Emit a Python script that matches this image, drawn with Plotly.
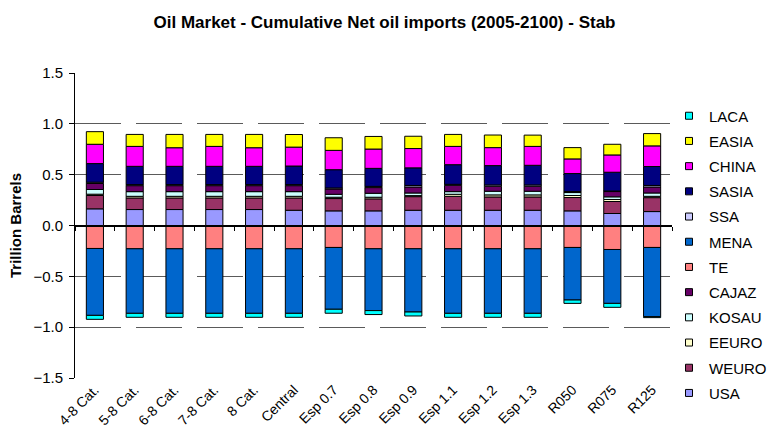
import plotly.graph_objects as go

scenarios = ["4-8 Cat.", "5-8 Cat.", "6-8 Cat.", "7-8 Cat.", "8 Cat.", "Central",
             "Esp 0.7", "Esp 0.8", "Esp 0.9", "Esp 1.1", "Esp 1.2", "Esp 1.3",
             "R050", "R075", "R125"]

# Cumulative net oil imports, trillion barrels (positive = importer, negative = exporter)
USA   = [0.164, 0.157, 0.157, 0.157, 0.157, 0.150, 0.144, 0.144, 0.150, 0.150, 0.150, 0.150, 0.144, 0.118, 0.137]
WEURO = [0.131, 0.114, 0.114, 0.114, 0.114, 0.121, 0.121, 0.118, 0.134, 0.137, 0.131, 0.131, 0.131, 0.118, 0.137]
EEURO = [0.013, 0.016, 0.016, 0.016, 0.016, 0.016, 0.013, 0.016, 0.010, 0.020, 0.020, 0.020, 0.020, 0.020, 0.013]
KOSAU = [0.046, 0.046, 0.046, 0.046, 0.046, 0.046, 0.029, 0.039, 0.026, 0.026, 0.036, 0.036, 0.029, 0.026, 0.033]
CAJAZ = [0.059, 0.059, 0.059, 0.059, 0.059, 0.059, 0.052, 0.056, 0.059, 0.062, 0.049, 0.049, 0.007, 0.052, 0.059]
TE    = [-0.226, -0.229, -0.229, -0.229, -0.229, -0.229, -0.216, -0.229, -0.229, -0.229, -0.229, -0.229, -0.216, -0.236, -0.216]
MENA  = [-0.658, -0.635, -0.635, -0.635, -0.635, -0.635, -0.608, -0.608, -0.622, -0.635, -0.635, -0.635, -0.517, -0.530, -0.680]
SSA   = [0.013, 0.010, 0.010, 0.010, 0.010, 0.010, 0.010, 0.012, 0.015, 0.010, 0.013, 0.013, 0.003, 0.005, 0.015]
SASIA = [0.183, 0.180, 0.180, 0.180, 0.180, 0.183, 0.180, 0.177, 0.173, 0.193, 0.190, 0.193, 0.177, 0.185, 0.186]
CHINA = [0.190, 0.196, 0.183, 0.196, 0.183, 0.186, 0.190, 0.190, 0.190, 0.180, 0.177, 0.186, 0.144, 0.170, 0.203]
EASIA = [0.124, 0.118, 0.131, 0.118, 0.131, 0.124, 0.124, 0.124, 0.121, 0.118, 0.124, 0.111, 0.111, 0.105, 0.121]
LACA  = [-0.039, -0.039, -0.039, -0.039, -0.039, -0.039, -0.039, -0.039, -0.039, -0.039, -0.039, -0.039, -0.033, -0.039, -0.010]

# Stacking order (bottom to top) with region colours
regions = [
    ("USA", USA, "#9999FF"),
    ("WEURO", WEURO, "#993366"),
    ("EEURO", EEURO, "#FFFFCC"),
    ("KOSAU", KOSAU, "#CCFFFF"),
    ("CAJAZ", CAJAZ, "#660066"),
    ("TE", TE, "#FF8080"),
    ("MENA", MENA, "#0066CC"),
    ("SSA", SSA, "#CCCCFF"),
    ("SASIA", SASIA, "#000080"),
    ("CHINA", CHINA, "#FF00FF"),
    ("EASIA", EASIA, "#FFFF00"),
    ("LACA", LACA, "#00FFFF"),
]

FONT = "Liberation Sans, Arial, sans-serif"

fig = go.Figure()
for name, vals, color in regions:
    fig.add_trace(go.Bar(
        x=scenarios, y=vals, name=name, showlegend=False,
        marker=dict(color=color, line=dict(color="black", width=1)),
        hoverinfo="x+y+name",
    ))

# Legend entries (top of stack listed first) with small square swatches
for name, vals, color in reversed(regions):
    fig.add_trace(go.Scatter(
        x=[scenarios[0]], y=[None], name=name, mode="markers",
        legendgroup=name, xaxis="x2",
        marker=dict(symbol="square", size=7, color=color, line=dict(color="black", width=1)),
    ))

fig.update_layout(
    width=769, height=446,
    margin=dict(l=75, r=97, t=73, b=68, autoexpand=False),
    paper_bgcolor="white", plot_bgcolor="white",
    font=dict(family=FONT, size=13, color="black"),
    barmode="relative", bargap=0.57,
    title=dict(text="<b>Oil Market - Cumulative Net oil imports (2005-2100) - Stab</b>",
               x=0.5, xref="container", xanchor="center",
               y=0.951, yref="container", yanchor="middle",
               font=dict(family=FONT, size=17, color="black")),
    xaxis=dict(type="category", range=[-0.5, 14.5], showline=False, ticks="",
               showgrid=False, zeroline=False, tickangle=-45,
               tickfont=dict(family=FONT, size=14, color="black")),
    xaxis2=dict(type="category", categoryorder="array", categoryarray=scenarios,
                overlaying="x", anchor="free", position=0.5, side="bottom",
                range=[-0.5, 14.5], showline=True, linecolor="black", linewidth=1,
                ticks="outside", ticklen=4, tickcolor="black", tickson="boundaries",
                showticklabels=False, showgrid=False, zeroline=False),
    yaxis=dict(range=[-1.5, 1.5], dtick=0.5, tick0=0, tickformat=".1f",
               showline=True, linecolor="black", linewidth=1,
               ticks="outside", ticklen=5, tickcolor="black",
               showgrid=True, gridcolor="#5a5a5a", gridwidth=1, griddash="46px,15px",
               zeroline=True, zerolinecolor="black", zerolinewidth=1,
               tickfont=dict(family=FONT, size=15, color="black"),
               title=dict(text="<b>Trillion Barrels</b>", standoff=8,
                          font=dict(family=FONT, size=15, color="black"))),
    legend=dict(x=0.995, xanchor="left", y=0.4294, yanchor="middle", xref="paper",
                yref="container",
                traceorder="grouped", tracegroupgap=2.7,
                font=dict(family=FONT, size=15, color="black"),
                bgcolor="rgba(0,0,0,0)", borderwidth=0),
)

try:
    fig.update_layout(legend_maxheight=1.0)
except ValueError:
    pass
try:
    fig.update_yaxes(ticklabelstandoff=3)
except ValueError:
    pass

fig.write_html("out.html")
